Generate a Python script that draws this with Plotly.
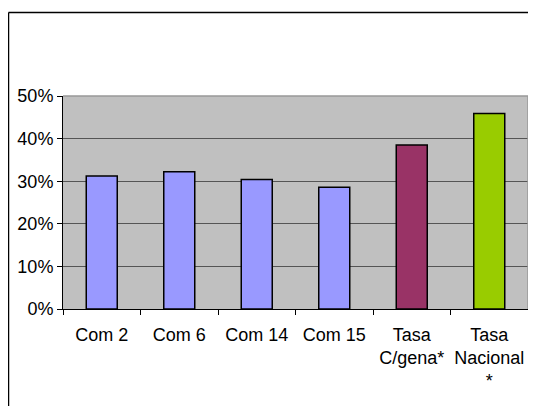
import plotly.graph_objects as go

categories = ["Com 2", "Com 6", "Com 14", "Com 15", "Tasa<br>C/gena*", "Tasa<br>Nacional<br>*"]
values = [0.312, 0.322, 0.304, 0.286, 0.385, 0.459]
colors = ["#9999FF", "#9999FF", "#9999FF", "#9999FF", "#993366", "#99CC00"]

fig = go.Figure(go.Bar(
    x=categories, y=values, width=0.4,
    marker=dict(color=colors, line=dict(color="black", width=1.5)),
))

FONT = dict(family="Liberation Sans, Arial, sans-serif", size=18, color="black")
# page body has an 8px margin; compensate
OFF = 8
W, H = 536 - OFF, 406 - OFF
L, T = 63 - OFF, 96 - OFF
pw, ph = 465, 213
R, B = W - L - pw, H - T - ph

def px2x(px):
    return (px - OFF - L) / pw

def py2y(py):
    return (H - B - (py - OFF)) / ph

fig.update_layout(
    width=W, height=H,
    margin=dict(l=L, r=R, t=T, b=B, autoexpand=False),
    paper_bgcolor="white", plot_bgcolor="#C0C0C0",
    font=FONT, showlegend=False,
    xaxis=dict(showline=True, linecolor="black", linewidth=1,
               ticks="outside", ticklen=5, tickcolor="black",
               tickson="boundaries", showgrid=False, tickfont=FONT,
               tickangle=0, ticklabelstandoff=9, automargin=False),
    yaxis=dict(range=[0, 0.5], dtick=0.1, tickformat=".0%",
               showline=True, linecolor="black", linewidth=1,
               ticks="outside", ticklen=5, tickcolor="black",
               showgrid=True, gridcolor="#555555", gridwidth=1,
               zeroline=False, tickfont=FONT, automargin=False),
    shapes=[
        dict(type="line", xref="x domain", yref="y domain", x0=0, x1=1, y0=1, y1=1,
             line=dict(color="#999999", width=1.5), layer="above"),
        dict(type="line", xref="x domain", yref="y domain", x0=1, x1=1, y0=0, y1=1,
             line=dict(color="#999999", width=1.5), layer="above"),
        dict(type="line", xref="paper", yref="paper", x0=px2x(8.5), x1=px2x(536),
             y0=py2y(12.5), y1=py2y(12.5), line=dict(color="black", width=1.5)),
        dict(type="line", xref="paper", yref="paper", x0=px2x(8.5), x1=px2x(8.5),
             y0=py2y(12.5), y1=py2y(406), line=dict(color="black", width=1.5)),
    ],
)

fig.write_html("out.html")
